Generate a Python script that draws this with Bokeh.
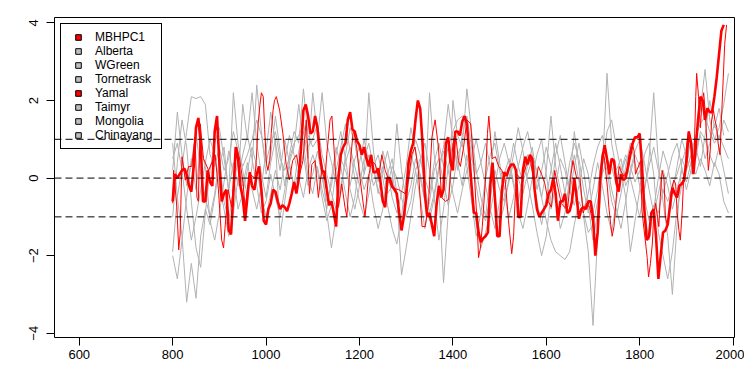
import numpy as np
from bokeh.plotting import figure
from bokeh.models import Range1d, FixedTicker, Span, Legend, LegendItem
from bokeh.embed import file_html
from bokeh.resources import INLINE

# ---------------- data ----------------
x_ticks = [600, 800, 1000, 1200, 1400, 1600, 1800, 2000]
y_ticks = [-4, -2, 0, 2, 4]
ref_levels = [-1, 0, 1]

legend_names = ["MBHPC1", "Alberta", "WGreen", "Tornetrask", "Yamal", "Taimyr", "Mongolia", "Chinayang"]
legend_colors = ["#FF0000", "#BEBEBE", "#BEBEBE", "#BEBEBE", "#FF0000", "#BEBEBE", "#BEBEBE", "#BEBEBE"]

# MBHPC1 (thick red), 5-year steps starting 800
mbhpc1_start, mbhpc1_step = 800, 5
mbhpc1 = [
    -0.6, 0.1, 0.0, 0.1, 0.2, 0.25, 0.1, -0.2, -0.35, 0.3,
    1.3, 1.55, 0.9, -0.6, -0.6, 0.2, -0.1, -0.2, 1.2, 1.6,
    0.4, -0.6, -0.4, -0.3, -1.35, -1.45, -0.4, 0.8, 0.5, -0.2,
    -0.5, -1.1, -0.5, 0.15, -0.2, -0.3, 0.1, 0.3, -0.3, -1.1,
    -1.2, -0.8, -0.65, -0.3, -0.35, -0.6, -0.8, -0.7, -0.75, -0.85,
    -0.65, -0.4, -0.1, -0.4, 0.0, 0.8, 1.75, 1.9, 1.6, 1.15,
    1.2, 1.6, 1.3, 0.6, 0.2, 0.15, -0.3, -0.7, -0.6, -0.9,
    -1.25, 0.0, 0.6, 0.8, 0.9, 1.5, 1.7, 1.25, 1.2, 0.95,
    0.85, 0.6, 0.8, 0.5, 0.3, 0.6, 0.15, 0.15, 0.25, -0.1,
    -0.6, -0.75, 0.0, 0.0, -0.2, -0.3, -0.4, -0.9, -1.35, -1.0,
    -0.5, 0.4, 0.7, 0.9, 1.5, 2.0, 1.8, 0.9, -0.4, -1.0,
    -0.9, -1.2, -1.5, -0.7, -0.2, -0.5, -0.3, 0.9, 1.05, 0.4,
    0.2, 1.2, 1.2, 1.1, 1.45, 1.6, 1.4, 0.6, -0.2, -0.9,
    -0.9, -1.4, -1.65, -1.55, -1.5, -1.4, -0.2, 0.4, -0.5, -1.5,
    -1.5, -0.3, 0.15, 0.05, 0.25, 0.35, 0.35, 0.2, -1.0, -1.0,
    0.2, 0.55, 0.35, 0.6, 0.5, -0.3, -0.8, -1.0, -0.9, -0.8,
    -0.7, -0.4, -0.3, 0.0, -0.4, -1.1, -0.6, -0.6, -0.4, -0.9,
    -0.85, -0.6, 0.0, -0.5, -1.05, -0.8, -0.75, -0.8, -0.6, -0.6,
    -1.0, -2.0, -1.4, -0.1, 0.5, 0.85, 0.5, 0.1, 0.5, 0.45,
    -0.1, -0.35, 0.1, -0.05, 0.0, 0.3, 0.6, 0.9, 1.05, 1.05,
    1.15, 0.3, -0.8, -1.6, -1.5, -0.9, -0.8, -1.5, -2.6, -2.0,
    -1.4, -1.35, -1.2, -0.7, -0.25, -0.4, -0.5, -0.2, -0.15, -0.05,
    0.4, 1.2, 0.9, 0.1, 0.8, 1.5, 2.1, 2.0, 1.5, 1.8,
    1.7, 1.7, 2.1, 2.6, 3.2, 3.8, 3.95,
]

# Yamal (thin red), irregular years
yamal_year = [
    800, 802, 809, 813, 816, 820, 827, 834, 841, 848, 852, 855, 859, 866, 877, 891, 898,
    905, 909, 912, 919, 926, 930, 937, 944, 951, 955, 965, 976, 979, 983, 987, 990, 994, 997,
    1001, 1004, 1008, 1011, 1015, 1018, 1022, 1029, 1036, 1043, 1050, 1057, 1065, 1072, 1079, 1086, 1093, 1098,
    1105, 1112, 1119, 1126, 1130, 1137, 1141, 1148, 1155, 1162, 1169, 1173, 1180, 1187, 1194,
    1201, 1209, 1212, 1219, 1226, 1234, 1241, 1248, 1255, 1269, 1284, 1298,
    1305, 1312, 1319, 1326, 1334, 1341, 1348, 1355, 1362, 1369, 1376, 1384, 1391, 1395,
    1400, 1405, 1412, 1416, 1423, 1430, 1438, 1445, 1452, 1455, 1459, 1463, 1470, 1474, 1477, 1484, 1491, 1498,
    1505, 1512, 1519, 1526, 1530, 1533, 1537, 1544, 1551, 1558, 1565, 1572, 1579, 1583, 1590, 1597,
    1604, 1611, 1618, 1625, 1632, 1639, 1646, 1653, 1657, 1665, 1672, 1679, 1686, 1693,
    1700, 1706, 1710, 1713, 1717, 1720, 1724, 1727, 1731, 1734, 1738, 1741, 1745, 1749, 1752, 1756, 1759,
    1766, 1773, 1777, 1781, 1784, 1788, 1791,
    1802, 1805, 1809, 1812, 1816, 1819, 1823, 1827, 1830, 1834, 1837, 1841, 1844, 1848, 1852, 1855, 1859,
    1862, 1866, 1869, 1873, 1877, 1880, 1884, 1887, 1891, 1894, 1898,
    1901, 1905, 1909, 1912, 1916, 1920, 1922, 1926, 1930, 1933, 1937, 1940, 1944, 1947, 1951, 1954, 1958,
    1961, 1965, 1968, 1972, 1975, 1979, 1982, 1986,
]
yamal_value = [
    -0.65, 0.2, -0.75, -1.85, -1.45, 0.55, -0.05, 0.3, 0.3, 1.05, -0.5, -0.6, 1.4, 0.5, 0.2, 0.6, -0.3,
    -1.6, -1.8, -1.3, -0.3, -0.75, -0.2, 0.8, 0.45, -0.15, -0.75, 0.1, 0.0, 0.45, 1.4, 1.9, 2.2, 2.1, 1.25,
    0.35, 0.2, 0.45, 1.15, 1.75, 2.0, 2.1, 1.75, 1.15, 0.35, -0.05, 0.45, 0.6, 0.1, 0.45, 1.5, -0.4, 0.35,
    0.45, -0.5, 0.2, -0.05, 0.6, 1.5, 1.6, 0.3, -0.75, -0.15, -0.75, -1.0, 0.35, 1.25, 0.8,
    0.0, -0.75, -1.0, 0.0, 0.45, 0.35, 0.0, 0.6, 0.2, -0.25, -0.3, -0.4,
    -0.05, 0.6, 0.8, 0.2, -1.25, -1.25, -0.6, 1.05, 1.5, 0.8, -0.5, -0.6, -0.55, 0.1,
    0.85, 1.2, 0.45, 0.3, 0.8, 1.5, 1.4, 0.3, -1.2, -2.05, -1.8, -1.25, 0.0, 1.15, 1.6, 0.5, 0.55, 0.3,
    0.2, -0.05, -1.1, -1.95, -1.5, -0.6, 0.1, 0.0, 0.1, 0.35, 0.55, 0.0, 0.0, 0.3, 0.1, -0.15,
    -0.6, -0.75, 0.2, -0.25, -0.65, -0.75, -0.75, 0.1, 0.45, 0.0, 0.0, -0.9, -0.65, -0.75,
    -1.2, -1.85, -1.35, -0.5, 0.2, 0.65, 0.55, 0.2, -0.25, -0.75, -1.2, -1.5, -1.25, -0.65, -0.15, 0.3, 0.2,
    0.05, 0.2, 0.6, 0.8, 0.9, 0.7, 0.1,
    0.45, -0.85, -1.3, -1.6, -2.05, -2.55, -2.2, -1.7, -1.0, -0.65, -0.9, -1.25, -0.5, 0.2, 0.0, -1.0, -1.2,
    -1.0, -0.5, -0.25, -0.05, -0.15, -0.85, -1.35, -1.6, -0.85, -0.05, 0.35,
    0.9, 1.2, 1.05, 0.7, 0.35, 2.1, 2.7, 2.1, 1.3, 1.9, 2.2, 1.75, 0.9, 0.2, 0.7, 1.5, 1.75,
    1.5, 1.3, 0.9, 0.6, 1.5, 2.6, 3.45, 3.95,
]

# grey series, 10-year steps starting 800
grey_start, grey_step = 800, 10
alberta = [
    -1.9, -0.5, 0.3, 1.2, 2.1, 2.05, 2.1, 1.9, 0.6, 0.3,
    0.8, 0.2, 0.5, 1.2, 0.7, 0.3, 0.6, 1.0, 1.5, 1.1,
    0.4, 0.9, 1.2, 0.5, 0.2, 0.5, 0.9, 1.1, 1.4, 0.8,
    1.0, 1.4, 0.6, 0.1, -0.4, -0.8, -0.2, 0.4, 0.8, 0.3,
    -0.2, 0.1, 0.6, 0.2, -0.3, -0.6, -0.2, 0.3, 0.0, -0.5,
    -1.0, -0.6, 0.2, 0.5, 0.0, -0.4, 0.4, 0.9, 0.3, 0.8,
    1.2, 1.5, 1.6, 1.3, 0.6, -0.2, -0.9, -1.1, -0.5, 0.2,
    -0.3, -0.6, -0.1, 0.4, 0.0, -0.4, 0.1, 0.5, 0.2, -0.5,
    -1.1, -1.6, -1.9, -2.0, -2.1, -1.9, -1.2, -0.6, -0.9, -1.4,
    -1.2, -0.6, 0.1, 0.5, 0.3, -0.2, 0.2, 0.6, 0.3, -0.1,
    0.2, -0.5, -1.1, -0.7, -0.9, -0.3, -0.6, -0.2, 0.1, 0.5,
    0.2, 0.6, 1.1, 1.4, 1.6, 1.2, 0.9, 1.1, 0.8, 0.5,
]
wgreen = [
    0.9, -0.5, -1.5, -3.2, -2.2, -3.1, -1.5, -0.8, -1.2, -0.5,
    0.3, 0.8, -0.4, 2.2, 0.9, 0.2, -0.5, 0.3, 2.4, 1.2,
    0.1, 0.6, 1.6, 0.7, -0.2, 0.6, 1.2, 0.9, 2.3, 1.1,
    0.8, 1.0, 2.2, 0.9, 0.4, -0.1, 0.5, 0.2, -0.2, 0.5,
    0.8, 0.1, 2.2, 0.7, -0.1, 0.3, -0.4, -0.2, 1.4, 0.2,
    -0.6, -0.2, 0.5, 0.1, -0.5, 2.2, 0.6, -0.3, -2.7, -0.9,
    2.0, 1.1, 0.8, 2.3, 1.2, 0.2, -0.5, -1.0, 0.1, 1.2,
    0.4, -0.3, 0.2, 0.9, 0.3, -0.1, 0.3, 0.8, 0.0, -0.5,
    0.2, 1.6, 0.3, -0.3, -0.8, -0.2, 1.2, 0.3, -1.0, -1.9,
    -3.8, -1.5, 0.2, 2.7, 0.9, 0.2, 0.5, -0.2, 0.1, 0.6,
    0.3, -0.3, 0.5, 2.2, 0.4, -0.6, -1.5, -3.0, -1.2, 0.4,
    0.8, 0.3, 1.0, 1.8, 2.8, 1.5, 1.0, 1.3, 1.9, 2.7,
]
tornetrask = [
    -1.0, 0.4, 1.5, 0.8, -0.6, -1.8, -2.3, -0.9, 0.2, 0.9,
    1.3, 0.5, -0.3, 0.4, -0.2, 1.9, 1.0, 2.2, 0.9, 0.1,
    -0.5, 0.4, 1.0, -1.5, -0.6, 0.3, -0.2, 0.7, 1.2, 0.5,
    2.2, 1.1, 0.3, -0.9, -1.8, -1.0, -0.4, 0.6, 1.3, 0.9,
    0.2, -0.3, 0.1, -0.7, -1.3, -0.8, 0.1, 0.5, -0.4, -2.5,
    -1.8, -1.0, -0.2, 0.4, 0.9, 0.2, -0.5, -1.6, -0.8, 0.3,
    0.9, 0.4, -0.2, 0.6, -0.3, -1.2, -1.8, -1.4, -0.9, -0.2,
    0.5, 0.9, 0.4, -0.2, -0.9, -1.3, -0.7, 0.0, 0.6, 1.0,
    0.1, -0.8, -0.2, 0.5, 0.2, -0.4, 0.3, 0.9, 0.2, -0.7,
    -1.6, -0.9, 0.3, 1.2, 1.5, 0.8, 0.2, -0.5, -1.9, -1.1,
    -0.3, 0.6, 0.9, 0.1, -1.4, -2.0, -2.6, -1.9, -0.8, -0.2,
    0.4, 1.0, 0.5, 1.2, 1.0, 0.6, 0.3, 0.8, 0.2, -0.4,
]
taimyr = [
    0.2, 1.7, 0.6, -0.2, 0.4, 1.2, 0.1, -0.5, -1.0, -0.4,
    0.5, -0.6, -1.1, -0.3, 0.5, -0.2, 0.4, -0.3, -0.8, -0.2,
    0.7, 1.7, 0.9, 0.2, 1.0, 0.4, -0.3, 0.2, 0.6, -0.2,
    0.1, 0.7, 0.0, -0.6, -0.2, 0.6, 1.2, 0.5, -0.3, -0.8,
    -0.2, 0.5, 0.9, 0.3, -0.4, 0.2, 0.7, 0.1, -0.6, -1.2,
    -0.5, 0.3, 1.0, 0.6, -0.2, -0.9, -0.4, 0.3, 0.8, 1.9,
    1.0, 0.2, 1.1, 1.6, 0.8, 0.1, 0.4, 0.9, 0.3, -0.5,
    -1.2, -0.7, 0.0, 0.6, 1.3, 0.7, -0.1, -0.7, -1.4, -2.0,
    -1.5, -0.4, 0.6, 1.1, 0.4, -0.3, -0.7, -0.2, 0.5, 0.1,
    -0.9, -0.3, 0.6, 0.2, -0.6, -1.0, -0.4, 0.3, 0.9, 0.4,
    -0.2, -0.9, -1.6, -0.8, 0.0, 0.7, 0.3, -0.4, 0.3, 1.0,
    0.6, 0.1, 0.7, 1.1, 0.5, 0.9, 1.4, 1.0, 1.5, 1.2,
]
mongolia = [
    -2.0, -2.6, -1.6, -0.5, 0.5, -0.3, 0.8, 0.3, -1.1, -1.6,
    -0.9, -0.1, 0.7, 0.1, -0.8, -0.4, 0.2, 0.8, 0.3, -0.5,
    -1.0, -0.4, 0.2, -0.3, 0.4, 1.1, 0.6, 0.0, -0.5, 0.2,
    0.6, 0.2, -0.5, -1.1, -0.7, 0.2, 0.8, 1.4, 0.7, 0.0,
    -0.6, -1.0, -0.4, 0.3, 0.6, 0.0, -0.7, -1.3, -1.7, -1.0,
    0.0, 0.6, 0.2, -0.5, -1.3, -0.6, 0.2, 0.5, -0.1, -0.7,
    -0.2, 0.6, 0.9, 0.3, -0.6, -1.5, -0.9, 0.0, 0.6, 0.9,
    0.2, -0.4, -1.0, -0.5, 0.3, 0.8, 1.2, 0.6, -0.3, 0.2,
    0.8, 0.3, -0.5, -1.3, -0.9, 0.0, 0.6, -0.1, -0.8, -0.4,
    0.3, 0.8, 1.1, 0.4, -0.3, -0.8, -1.3, -0.6, 0.2, 0.7,
    1.0, 0.4, -0.3, -0.9, -0.4, 0.2, -0.2, -0.8, -0.3, 0.2,
    -0.1, 0.4, 0.1, 0.5, 0.2, -0.2, 0.4, 0.1, -0.6, -0.9,
]
chinayang = [
    0.5, 0.9, 0.2, -0.8, -1.6, -1.0, -0.3, 0.4, 1.0, 0.6,
    -0.2, -0.8, -1.5, -0.9, 0.0, 0.6, 1.1, 0.5, -0.2, -0.9,
    -0.6, 0.1, -0.5, -1.0, -0.3, 0.4, 0.8, 1.9, 0.9, 0.0,
    -0.4, 0.3, -0.3, -0.8, 0.0, 0.8, 0.3, -0.4, -1.0, -0.5,
    0.4, 1.0, 0.4, -0.2, 0.1, 0.7, 0.2, -0.5, -0.9, -0.4,
    0.3, 1.3, 0.7, 0.0, -0.6, -1.1, -0.5, 0.2, 0.7, 0.2,
    -0.4, -0.9, -0.3, 0.2, 0.5, 1.0, 0.4, -0.2, -0.8, -1.3,
    -0.6, 0.1, 0.5, -0.1, -0.6, 0.0, 0.6, 0.2, -0.6, -1.2,
    -0.5, 0.2, 0.9, 0.3, -0.4, 0.4, 0.9, 0.5, -0.3, -0.9,
    -0.3, 0.4, -0.2, -0.9, -1.4, -0.6, 0.1, 0.5, 0.0, -0.5,
    -1.0, -0.3, 0.3, 0.8, 0.2, -0.4, 0.1, 0.6, 0.9, 0.3,
    -0.3, 0.2, 0.8, 0.3, 1.1, 2.0, 1.3, 1.8, 1.1,
]
grey_series = [alberta, wgreen, tornetrask, taimyr, mongolia, chinayang]

# ---------------- styling ----------------
FONT = "Liberation Sans"
GREY_LINE = "#B2B2B2"

p = figure(
    width=744, height=382,
    x_range=Range1d(547, 2003), y_range=Range1d(-4.11, 4.14),
    output_backend="svg", toolbar_location=None,
    min_border_left=54, min_border_right=10, min_border_top=17, min_border_bottom=45,
    background_fill_color="white", border_fill_color="white",
)
p.grid.visible = False
p.outline_line_color = "black"
p.outline_line_width = 1
p.outline_line_alpha = 1.0

for ax in (p.xaxis[0], p.yaxis[0]):
    ax.axis_line_color = None
    ax.major_tick_line_color = "black"
    ax.major_tick_in = 0
    ax.major_tick_out = 8
    ax.minor_tick_line_color = None
    ax.major_label_text_font = FONT
    ax.major_label_text_font_size = "13px"
    ax.major_label_text_color = "black"

p.xaxis[0].ticker = FixedTicker(ticks=x_ticks)
p.xaxis[0].major_label_standoff = 4
p.yaxis[0].ticker = FixedTicker(ticks=y_ticks)
p.yaxis[0].major_label_orientation = "vertical"
p.yaxis[0].major_label_standoff = 8

# grey series
for s in grey_series:
    yrs = [grey_start + grey_step * i for i in range(len(s))]
    p.line(yrs, s, line_color=GREY_LINE, line_width=1)

# thin red (Yamal)
p.line(yamal_year, yamal_value, line_color="#FF0000", line_width=1)

# thick red (MBHPC1)
mb_years = [mbhpc1_start + mbhpc1_step * i for i in range(len(mbhpc1))]
p.line(mb_years, mbhpc1, line_color="#FF0000", line_width=2.6)

# reference dashed lines
for lv in ref_levels:
    p.add_layout(Span(location=lv, dimension="width", line_color="black",
                      line_width=1, line_dash="7 4"))

# legend (square swatches)
items = []
for name, col in zip(legend_names, legend_colors):
    r = p.scatter(x=[np.nan], y=[np.nan], marker="square", size=7,
                  fill_color=col, line_color="black", line_width=1)
    items.append(LegendItem(label=name, renderers=[r]))

legend = Legend(
    items=items, location="top_left", margin=6, padding=6, spacing=0,
    glyph_width=22, glyph_height=14, label_height=14, label_width=60,
    label_standoff=6, label_text_font=FONT, label_text_font_size="12px",
    label_text_color="black",
    border_line_color="black", border_line_width=1, border_line_alpha=1.0,
    background_fill_alpha=0.0,
)
p.add_layout(legend)

open("out.html", "w").write(file_html(p, INLINE))
